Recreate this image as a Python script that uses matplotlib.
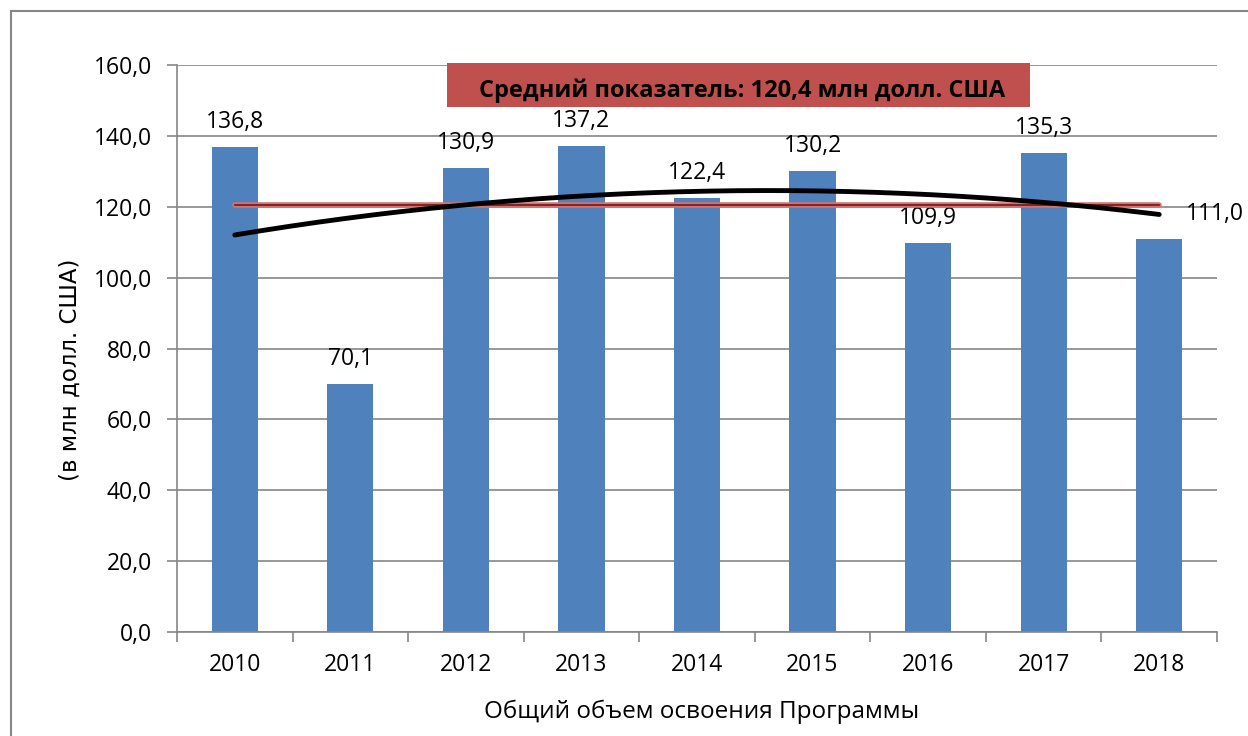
import matplotlib
matplotlib.use("Agg")
import matplotlib.pyplot as plt
from matplotlib.patches import Rectangle
from matplotlib.lines import Line2D
import numpy as np

years = ["2010", "2011", "2012", "2013", "2014", "2015", "2016", "2017", "2018"]
values = [136.8, 70.1, 130.9, 137.2, 122.4, 130.2, 109.9, 135.3, 111.0]
labels = ["136,8", "70,1", "130,9", "137,2", "122,4", "130,2", "109,9", "135,3", "111,0"]
average = 120.4
yticks = [0, 20, 40, 60, 80, 100, 120, 140, 160]
ytick_labels = ["0,0", "20,0", "40,0", "60,0", "80,0", "100,0", "120,0", "140,0", "160,0"]
title_text = "Средний показатель: 120,4 млн долл. США"
xlabel = "Общий объем освоения Программы"
ylabel = "(в млн долл. США)"

W, H = 1248, 736
fig = plt.figure(figsize=(W / 100, H / 100), dpi=100)
FONT = ["Open Sans", "DejaVu Sans"]
grey = "#868686"
NUM = 16.5

ax = fig.add_axes([177 / W, 1 - 632 / H, (1217 - 177) / W, (632 - 65) / H])
x = np.arange(len(years))
ax.bar(x, values, width=0.4, color="#4f81bd", zorder=2)
ax.set_xlim(-0.5, len(years) - 0.5)
ax.set_ylim(0, 160)
ax.set_yticks(yticks)
ax.set_yticklabels(ytick_labels, fontsize=NUM, family=FONT)
ax.set_xticks(x)
ax.set_xticklabels(years, fontsize=NUM, family=FONT)
ax.tick_params(axis="x", length=0, pad=15)
ax.set_xticks(np.arange(-0.5, len(years)), minor=True)
ax.tick_params(axis="x", which="minor", length=7, color=grey, width=1.2, direction="out")
ax.tick_params(axis="y", length=7, color=grey, width=1.2, direction="out", pad=11)
ax.grid(axis="y", color=grey, lw=1.2, zorder=0)
for s in ["top", "right"]:
    ax.spines[s].set_visible(False)
for s in ["left", "bottom"]:
    ax.spines[s].set_color(grey)
    ax.spines[s].set_linewidth(1.2)

# data labels
for i, (v, lab) in enumerate(zip(values, labels)):
    dx = 0.48 if i == len(years) - 1 else 0
    ax.annotate(lab, (i + dx, v), xytext=(0, 13.5), textcoords="offset points",
                ha="center", va="baseline", fontsize=NUM, family=FONT)

# average line
ax.plot([x[0], x[-1]], [average, average], color="#d9706d", lw=4, zorder=3, solid_capstyle="round")
ax.plot([x[0], x[-1]], [average, average], color="#6b1a18", lw=1.2, zorder=4)

# polynomial trend line (order 2), as computed from the bar values
coef = np.polyfit(x, values, 2)
xs = np.linspace(x[0], x[-1], 200)
ax.plot(xs, np.polyval(coef, xs), color="black", lw=3.5, zorder=5, solid_capstyle="round")

ax.set_xlabel(xlabel, fontsize=17.5, family=FONT, va="center")
ax.xaxis.set_label_coords((702 - 177) / 1040, (632 - 712) / 567)
ax.set_ylabel(ylabel, fontsize=16.5, family=["DejaVu Sans"], va="center")
ax.yaxis.set_label_coords((70 - 177) / 1040, (632 - 370) / 567)

# title box
fig.patches.append(Rectangle((447 / W, 1 - 107 / H), (1030 - 447) / W, 44 / H,
                             transform=fig.transFigure, facecolor="#c0504d",
                             edgecolor="none", zorder=10))
fig.text(742 / W, 1 - 91 / H, title_text, ha="center", va="center", fontsize=17,
         fontweight="bold", family=FONT, zorder=11)

# outer frame (top and left visible)
fig.add_artist(Line2D([11 / W, 1], [1 - 11 / H, 1 - 11 / H], color=grey, lw=1.5))
fig.add_artist(Line2D([11 / W, 11 / W], [0, 1 - 11 / H], color=grey, lw=1.5))

fig.savefig("out.png", dpi=100)
